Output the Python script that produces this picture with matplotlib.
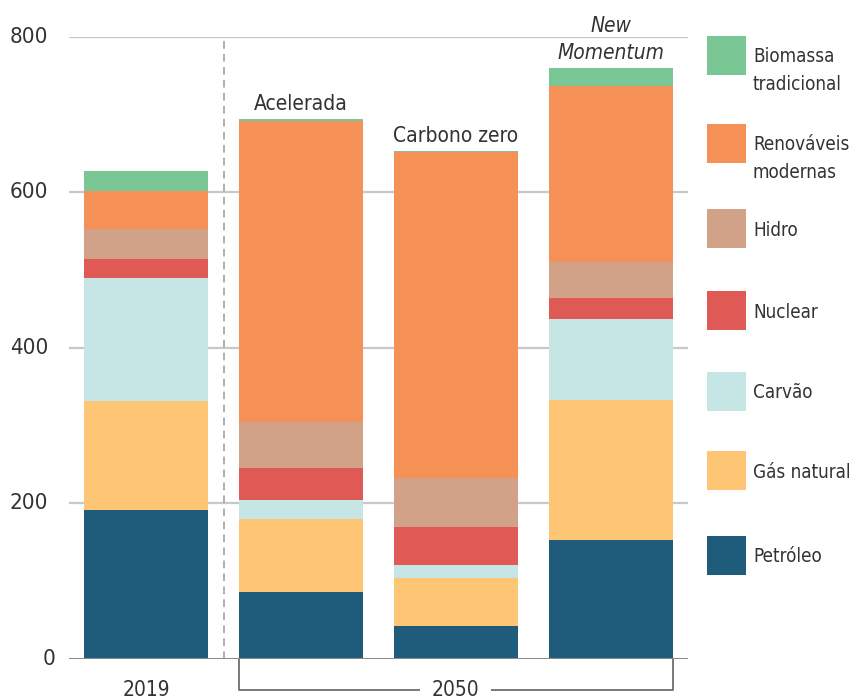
import matplotlib.pyplot as plt
from matplotlib.patches import Rectangle
from matplotlib.transforms import blended_transform_factory

plt.rcParams['font.family'] = ['DejaVu Sans']
plt.rcParams['font.stretch'] = 'condensed'

# Energy demand by source: 2019 and three 2050 scenarios
scenarios = ['2019', 'Acelerada', 'Carbono zero', 'New Momentum']
sources = ['Petróleo', 'Gás natural', 'Carvão', 'Nuclear', 'Hidro',
           'Renováveis modernas', 'Biomassa tradicional']
petroleo = [191, 86, 42, 153]
gas_natural = [140, 94, 62, 180]
carvao = [159, 24, 16.5, 104]
nuclear = [24, 41, 48.5, 27]
hidro = [39, 60, 64, 46]
renovaveis = [48, 386.5, 419, 226]
biomassa = [26, 2.5, 1, 24]
legend_labels = ['Biomassa\ntradicional', 'Renováveis\nmodernas', 'Hidro',
                 'Nuclear', 'Carvão', 'Gás natural', 'Petróleo']
yticks = [0, 200, 400, 600, 800]

colors = ['#1f5c7c', '#fdc574', '#c5e6e4', '#e05a55', '#d2a288',
          '#f59157', '#7ac795']
text_color = '#333333'

W, H = 854, 699
fig = plt.figure(figsize=(W / 100, H / 100), dpi=100)
ax = fig.add_axes([69 / W, 40.3 / H, (688 - 69) / W, (658.7 - 36.7) / H])

x = range(len(scenarios))
bottom = [0] * len(scenarios)
for vals, c in zip([petroleo, gas_natural, carvao, nuclear, hidro,
                    renovaveis, biomassa], colors):
    ax.bar(x, vals, width=0.8, bottom=bottom, color=c, zorder=2, linewidth=0)
    bottom = [b + v for b, v in zip(bottom, vals)]

ax.set_xlim(-0.5, 3.5)
ax.set_ylim(0, 800)
for s in ax.spines.values():
    s.set_visible(False)
ax.set_xticks([])
ax.set_yticks([])

# grid lines and baseline
for t in yticks[1:]:
    ax.axhline(t, color='#c8c8cc', lw=1.6, zorder=1)
ax.axhline(0, color='#8a8a8a', lw=2.2, zorder=3)

# tick labels
ytr = blended_transform_factory(fig.transFigure, ax.transData)
for t in yticks:
    xr = 56 if t == 0 else 48
    ax.text(xr / W, t, str(t), transform=ytr, ha='right', va='center',
            fontsize=16, color=text_color)

# separator between 2019 and 2050
ax.plot([0.5, 0.5], [0, 800], color='#9a9a9a', lw=1.1, ls=(0, (5, 3.5)),
        zorder=1)

# scenario names above the 2050 bars
lbl = dict(ha='center', va='baseline', fontsize=15, color=text_color,
           clip_on=False)
ax.text(1, 705.7, 'Acelerada', **lbl)
ax.text(2, 664.5, 'Carbono zero', **lbl)
ax.text(3, 806.4, 'New', style='italic', **lbl)
ax.text(3, 771, 'Momentum', style='italic', **lbl)

# year labels and bracket under the 2050 group
ax.text(0, -48, '2019', **lbl)
ax.text(2, -48, '2050', **lbl)
yb = -40.3
bk = dict(color='#555555', lw=1.1, clip_on=False, solid_capstyle='butt')
ax.plot([0.6, 0.6, 1.77], [0, yb, yb], **bk)
ax.plot([2.23, 3.4, 3.4], [yb, yb, 0], **bk)

# legend: first line of each label sits level with its swatch
centers = [55.5, 143.5, 228.5, 310.5, 391.5, 470.5, 555.5]
for lab, c, cy in zip(legend_labels, colors[::-1], centers):
    fig.add_artist(Rectangle((707 / W, 1 - (cy + 19.5) / H), 39 / W, 39 / H,
                             transform=fig.transFigure, color=c, lw=0))
    for i, line in enumerate(lab.split('\n')):
        fig.text(753 / W, 1 - (cy + 7 + 28 * i) / H, line, ha='left',
                 va='baseline', fontsize=13.5, color=text_color)

fig.savefig('out.png', dpi=100)
